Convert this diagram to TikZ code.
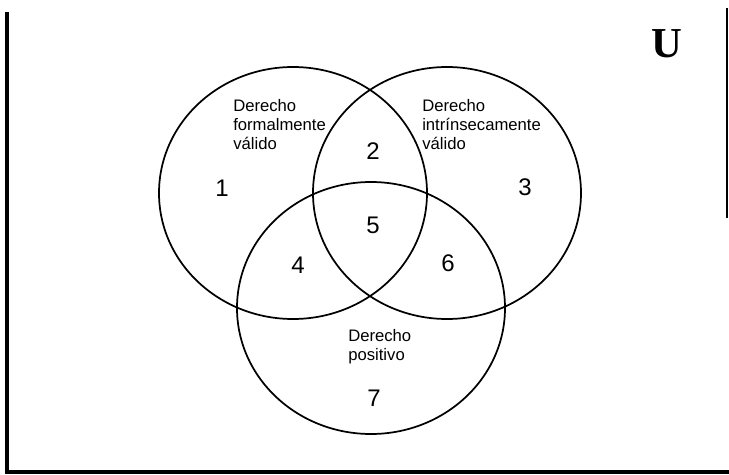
\documentclass[tikz,border=0pt]{standalone}
\usepackage{fontspec}
\setmainfont{Liberation Sans}
\newfontfamily\univfont{Liberation Serif}
\usetikzlibrary{shapes.geometric}

\begin{document}
\begin{tikzpicture}[x=0.75pt,y=-0.75pt,
    setlabel/.style={align=left,anchor=north west,inner sep=0pt,
      font=\fontsize{12.5}{14.25}\selectfont},
    region/.style={inner sep=0pt,font=\fontsize{18}{18}\selectfont}]
  \useasboundingbox (0,0) rectangle (729,475);
  % marco del universo
  \draw[line width=3.5pt] (7,12) -- (7,472);
  \draw[line width=3pt] (5,471.5) -- (729,471.5);
  \draw[line width=1.2pt] (727,8) -- (727,218);
  \node (U) [font=\univfont\bfseries\fontsize{32}{32}\selectfont] at (667,44) {U};
  % conjuntos
  \begin{scope}[every node/.style={ellipse,draw,line width=1.3pt,
      minimum width=201pt,minimum height=189pt,inner sep=0pt}]
    \node (formal) at (293,193) {};
    \node (intrin) at (447,193) {};
    \node (posit) at (371,308) {};
  \end{scope}
  \node (lformal) [setlabel] at (233,99) {Derecho\\formalmente\\válido};
  \node (lintrin) [setlabel] at (422,99) {Derecho\\intrínsecamente\\válido};
  \node (lposit) [setlabel] at (348,329) {Derecho\\positivo};
  % regiones
  \begin{scope}[every node/.style={region}]
    \node (r1) at (222,188) {1};
    \node (r2) at (373,151) {2};
    \node (r3) at (525,187) {3};
    \node (r4) at (298,265) {4};
    \node (r5) at (373,225) {5};
    \node (r6) at (448,263) {6};
    \node (r7) at (374,398) {7};
  \end{scope}
\end{tikzpicture}
\end{document}
